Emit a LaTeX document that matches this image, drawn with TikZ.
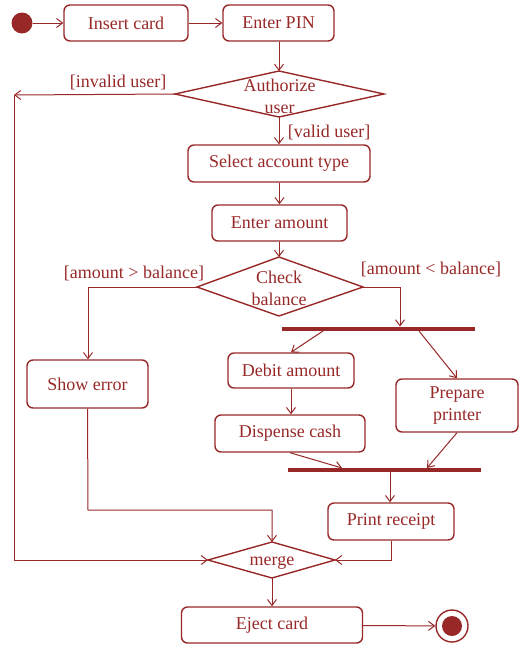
\documentclass[tikz,border=0pt]{standalone}
\usepackage{fontspec}
\setmainfont{Liberation Serif}
\usetikzlibrary{arrows.meta}
\definecolor{dr}{RGB}{152,40,40}
\begin{document}
\begin{tikzpicture}[x=1pt,y=-1pt,
  box/.style={draw=dr, line width=1.4pt, rounded corners=6pt, text=dr,
    font=\fontsize{18}{22}\selectfont, align=center, inner sep=0pt},
  txt/.style={text=dr, font=\fontsize{18}{22}\selectfont, align=center, inner sep=0pt},
  lbl/.style={text=dr, font=\fontsize{18}{22}\selectfont, inner sep=0pt},
  dia/.style={draw=dr, line width=1.4pt, line join=miter},
  flow/.style={draw=dr, line width=1pt, -{Straight Barb[length=6pt,width=9pt]}},
  bar/.style={fill=dr, draw=none, inner sep=0pt, minimum height=4.5pt}]
\useasboundingbox (0,0) rectangle (519,645);

% start and end
\node[circle, fill=dr, minimum size=21pt, inner sep=0pt] (start) at (22,23) {};
\node[circle, draw=dr, line width=1.4pt, minimum size=32pt, inner sep=0pt] (endo) at (452,626) {};
\node[circle, fill=dr, minimum size=20pt, inner sep=0pt] (endi) at (452,626) {};

% boxes
\node[box, minimum width=124pt, minimum height=36pt] (insert) at (126,23) {Insert card};
\node[box, minimum width=111pt, minimum height=36pt] (pin) at (278.5,23) {Enter PIN};
\node[box, minimum width=182pt, minimum height=37pt] (select) at (279,163.5) {Select account type};
\node[box, minimum width=135pt, minimum height=36pt] (amount) at (279.5,223) {Enter amount};
\node[box, minimum width=121pt, minimum height=48pt] (error) at (87.5,384) {Show error};
\node[box, minimum width=126pt, minimum height=35pt] (debit) at (291,370.5) {Debit amount};
\node[box, minimum width=150pt, minimum height=37pt] (dispense) at (290,433.5) {Dispense cash};
\node[box, minimum width=122pt, minimum height=53pt] (printer) at (457,405.5) {Prepare\\printer};
\node[box, minimum width=126pt, minimum height=37pt] (receipt) at (391,521.5) {Print receipt};
\node[box, minimum width=181pt, minimum height=36pt] (eject) at (272,625) {Eject card};

% bars
\node[bar, minimum width=193pt] (fork) at (378.5,329) {};
\node[bar, minimum width=193pt] (join) at (384.5,470) {};

% diamonds
\coordinate (aN) at (279,71); \coordinate (aE) at (384,94);
\coordinate (aS) at (279,117); \coordinate (aW) at (175,94);
\draw[dia] (aN) -- (aE) -- (aS) -- (aW) -- cycle;
\node[txt] (auth) at (279.5,96) {Authorize\\user};

\coordinate (cN) at (279,257); \coordinate (cE) at (363,287);
\coordinate (cS) at (279,316); \coordinate (cW) at (197,287);
\draw[dia] (cN) -- (cE) -- (cS) -- (cW) -- cycle;
\node[txt] (check) at (279,288) {Check\\balance};

\coordinate (mN) at (272,542); \coordinate (mE) at (335,560);
\coordinate (mS) at (272,578); \coordinate (mW) at (208,560);
\draw[dia] (mN) -- (mE) -- (mS) -- (mW) -- cycle;
\node[txt] (merge) at (272,563) {merge};

% guard labels
\node[lbl] (linv) at (118,82) {[invalid user]};
\node[lbl] (lval) at (329,132) {[valid user]};
\node[lbl] (lgt) at (134,273) {[amount > balance]};
\node[lbl] (llt) at (431,269) {[amount < balance]};

% helper coordinates
\coordinate (inv) at (14,95);
\coordinate (gtc) at (88,287);
\coordinate (ltc) at (400,287);
\coordinate (f1) at (323,331);
\coordinate (f2) at (419,331);
\coordinate (j1) at (342,468);
\coordinate (j2) at (427,468);
\coordinate (j3) at (390,472);
\coordinate (ec) at (88,510);

% connectors
\draw[flow] (start) -- (insert);
\draw[flow] (insert) -- (pin);
\draw[flow] (pin.south -| aN) -- (aN);
\draw[flow] (aW) -- (inv);
\draw[flow] (inv) |- (mW);
\draw[flow] (aS) -- (aS |- select.north);
\draw[flow] (select.south -| amount) -- (amount.north);
\draw[flow] (amount.south -| cN) -- (cN);
\draw[flow] (cW) -- (gtc) -- (error.north -| gtc);
\draw[flow] (cE) -- (ltc) -- (ltc |- fork.north);
\draw[flow] (f1) -- (debit.north);
\draw[flow] (f2) -- (printer.north);
\draw[flow] (debit.south) -- (dispense.north -| debit.south);
\draw[flow] (dispense.south) -- (j1);
\draw[flow] (printer.south) -- (j2);
\draw[flow] (j3) -- (j3 |- receipt.north);
\draw[flow] (error.south) -- (ec) -| (mN);
\draw[flow] (receipt.south) |- (mE);
\draw[flow] (mS) -- (eject.north);
\draw[flow] (eject) -- (endo);
\end{tikzpicture}
\end{document}
